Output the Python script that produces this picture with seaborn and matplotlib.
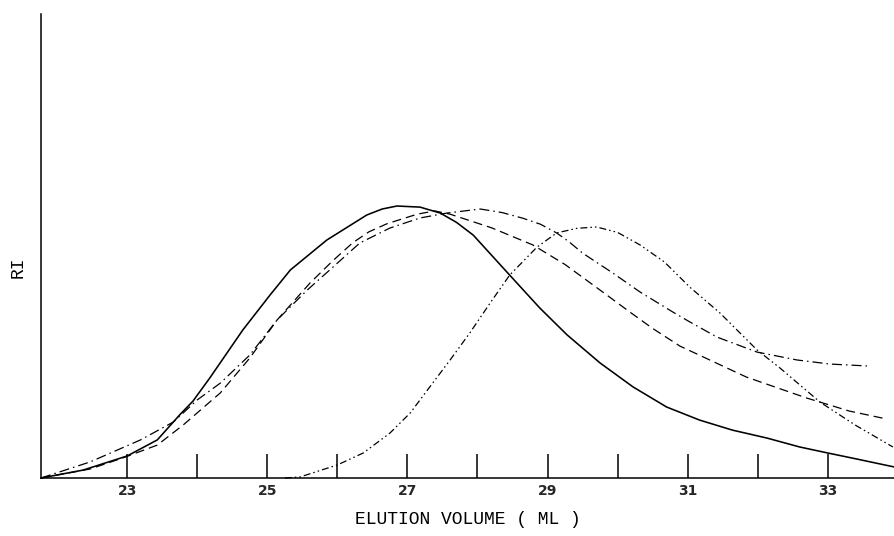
import numpy as np
import pandas as pd
import matplotlib
matplotlib.use("Agg")
import matplotlib.pyplot as plt
import seaborn as sns

# Elution volume (mL) and refractive-index response for four samples
vol_a = [21.77, 22.37, 23.00, 23.43, 23.76, 23.94, 24.18, 24.65, 25.04, 25.33, 25.85,
         26.42, 26.64, 26.85, 27.18, 27.47, 27.70, 27.94, 28.46, 28.89, 29.28, 29.75,
         30.22, 30.70, 31.17, 31.64, 32.13, 32.60, 33.00, 33.41, 33.96]
ri_a = [0.0, 2.9, 8.1, 14.0, 23.5, 28.3, 36.8, 54.4, 67.3, 76.5, 87.5,
        96.7, 98.9, 100.0, 99.6, 97.4, 94.0, 89.3, 74.6, 62.5, 52.6, 42.3,
        33.5, 26.1, 21.3, 17.6, 14.7, 11.4, 9.2, 7.0, 4.0]

vol_b = [21.77, 22.47, 22.94, 23.43, 23.80, 24.33, 24.75, 25.14, 25.61, 25.94, 26.22,
         26.45, 26.71, 27.14, 27.39, 27.61, 28.20, 28.79, 29.25, 29.75, 30.15, 30.50,
         30.89, 31.84, 32.70, 33.31, 33.84]
ri_b = [0.0, 3.3, 7.4, 12.1, 19.5, 31.3, 44.1, 58.1, 71.7, 80.0, 86.5,
        90.5, 93.5, 97.0, 98.2, 97.0, 92.0, 85.7, 78.5, 69.1, 61.5, 55.0,
        48.5, 37.1, 29.4, 24.6, 21.7]

vol_c = [21.77, 22.47, 23.19, 23.66, 24.00, 24.33, 24.75, 25.14, 25.57, 25.94, 26.32,
         26.75, 27.18, 27.56, 28.04, 28.35, 28.65, 28.90, 29.13, 29.30, 29.50, 29.93,
         30.32, 30.79, 31.03, 31.42, 31.99, 32.56, 33.03, 33.56]
ri_c = [0.0, 5.9, 14.0, 20.6, 28.7, 34.9, 45.2, 58.1, 69.1, 77.6, 86.4,
        91.9, 95.6, 97.4, 98.9, 97.6, 95.5, 93.3, 90.1, 87.0, 82.7, 75.4,
        68.4, 61.0, 57.4, 51.8, 46.3, 43.4, 41.9, 41.2]

vol_d = [25.25, 25.47, 26.00, 26.37, 26.75, 27.04, 27.32, 27.61, 27.89, 28.18, 28.46,
         28.85, 29.13, 29.42, 29.70, 30.00, 30.32, 30.67, 31.03, 31.46, 31.99, 32.32,
         32.89, 33.39, 33.93]
ri_d = [0.0, 0.4, 4.8, 9.2, 16.5, 23.9, 33.5, 43.4, 53.3, 64.3, 74.6,
        84.9, 90.1, 91.8, 92.3, 90.3, 85.7, 79.4, 70.2, 60.7, 47.1, 40.4,
        27.9, 19.5, 11.4]

tick_values = list(range(23, 34))
tick_labels = [str(v) if v % 2 else "" for v in tick_values]

df = pd.concat([
    pd.DataFrame({"volume": vol_a, "ri": ri_a, "sample": "A"}),
    pd.DataFrame({"volume": vol_b, "ri": ri_b, "sample": "B"}),
    pd.DataFrame({"volume": vol_c, "ri": ri_c, "sample": "C"}),
    pd.DataFrame({"volume": vol_d, "ri": ri_d, "sample": "D"}),
], ignore_index=True)

sns.set_theme(style="white")
plt.rcParams["lines.scale_dashes"] = False
plt.rcParams["font.family"] = ["DejaVu Sans"]

fig = plt.figure(figsize=(8.95, 5.36), dpi=100)
ax = fig.add_axes([41 / 895, 58 / 536, 854 / 895, 464 / 536])

dash_map = {
    "A": "",
    "B": (6.5, 3.6),
    "C": (7.2, 2.9, 1.1, 2.9),
    "D": (5.0, 2.2, 1.1, 2.2, 1.1, 2.2),
}
sns.lineplot(data=df, x="volume", y="ri", style="sample", dashes=dash_map,
             style_order=["A", "B", "C", "D"], color="black", estimator=None,
             sort=False, legend=False, linewidth=0.9, ax=ax)
for line, lw in zip(ax.lines, [1.15, 0.9, 0.9, 0.9]):
    line.set_linewidth(lw)
    line.set_clip_on(False)
    line.set_solid_joinstyle("round")
    line.set_dash_joinstyle("round")

ax.set_xlim(21.77, 33.96)
ax.set_ylim(0, 170.6)
ax.set_xticks(tick_values)
ax.set_xticklabels(tick_labels, fontsize=10, fontweight="bold")
ax.set_yticks([])
ax.tick_params(axis="x", direction="in", length=17, width=1.1, color="black",
               pad=4, bottom=True)

for side in ("top", "right"):
    ax.spines[side].set_visible(False)
for side in ("left", "bottom"):
    ax.spines[side].set_color("black")
    ax.spines[side].set_linewidth(1.1)

ax.set_xlabel("ELUTION VOLUME ( ML )", family="Liberation Mono", fontsize=13,
              labelpad=10, color="black")
ax.set_ylabel("RI", family="Liberation Mono", fontsize=13, color="black",
              ha="center", va="center")
ax.yaxis.set_label_coords(-23 / 854, 0.455)

fig.savefig("out.png", dpi=100)
